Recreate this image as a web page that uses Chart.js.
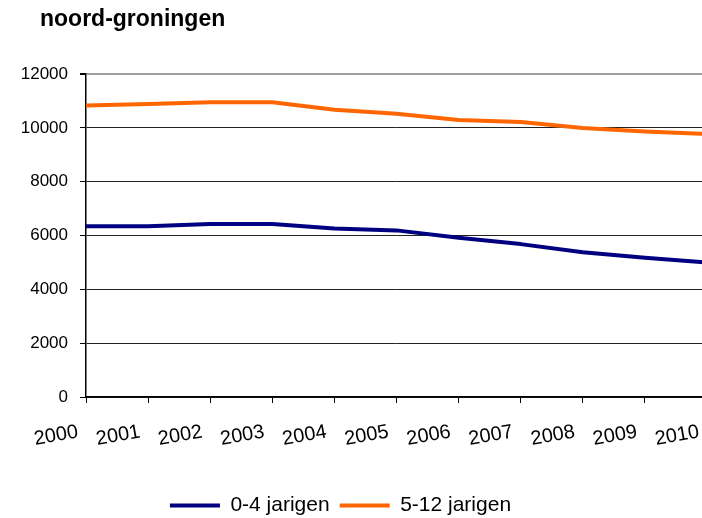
<!DOCTYPE html>
<html>
<head>
<meta charset="utf-8">
<script src="https://cdn.jsdelivr.net/npm/chart.js@4.4.0/dist/chart.umd.min.js"></script>
<style>
body { margin: 0; width: 702px; height: 518px; overflow: hidden; background: #fff; position: relative; }
#wrap { position: absolute; left: 0; top: 0; width: 712px; height: 526px; }
#titel { position: absolute; left: 40px; top: 7px; font: bold 23px "Liberation Sans", Arial, sans-serif; line-height: 23px; color: #000; }
</style>
</head>
<body>
<div id="wrap"><canvas id="grafiek" width="712" height="526"></canvas></div>
<div id="titel">noord-groningen</div>
<script>
// jaren en aantallen kinderen
const jaren = ['2000', '2001', '2002', '2003', '2004', '2005', '2006', '2007', '2008', '2009', '2010'];
const jarigen0tot4 = [6340, 6340, 6430, 6430, 6260, 6190, 5920, 5680, 5380, 5170, 5000];
const jarigen5tot12 = [10830, 10890, 10950, 10950, 10670, 10520, 10290, 10220, 9990, 9860, 9770];
const yMin = 0;
const yMax = 12000;
const yStap = 2000;

const lettertype = "'Liberation Sans', Arial, sans-serif";

// legenda iets naar links, zoals in het origineel
const legendaVerschuiving = {
    id: 'legendaVerschuiving',
    afterLayout: function(chart) {
        if (chart.legend) {
            chart.legend.left -= 13;
            chart.legend.right -= 13;
        }
    }
};

document.addEventListener('DOMContentLoaded', function() {
    var ctx = document.getElementById('grafiek').getContext('2d');
    new Chart(ctx, {
        type: 'line',
        data: {
            labels: jaren,
            datasets: [{
                label: '0-4 jarigen',
                data: jarigen0tot4,
                borderColor: '#000080',
                backgroundColor: '#000080',
                borderWidth: 4,
                pointRadius: 0,
                tension: 0,
                borderJoinStyle: 'round'
            }, {
                label: '5-12 jarigen',
                data: jarigen5tot12,
                borderColor: '#FF6600',
                backgroundColor: '#FF6600',
                borderWidth: 4,
                pointRadius: 0,
                tension: 0,
                borderJoinStyle: 'round'
            }]
        },
        options: {
            responsive: false,
            animation: false,
            layout: {
                padding: { top: 74, right: 5, bottom: 0, left: 0 }
            },
            scales: {
                x: {
                    offset: false,
                    grid: {
                        drawOnChartArea: false,
                        drawTicks: true,
                        tickLength: 6,
                        color: '#000'
                    },
                    border: { color: '#000', width: 1.5 },
                    ticks: {
                        font: { family: lettertype, size: 20 },
                        color: '#000',
                        minRotation: 10,
                        maxRotation: 10,
                        autoSkip: false,
                        padding: 17,
                        labelOffset: -8
                    },
                    afterFit: function(schaal) {
                        schaal.height = 88;
                        schaal.paddingLeft = 0;
                        schaal.paddingRight = 0;
                    }
                },
                y: {
                    min: yMin,
                    max: yMax,
                    ticks: {
                        stepSize: yStap,
                        font: { family: lettertype, size: 17 },
                        color: '#000',
                        padding: 12,
                        callback: function(waarde) { return String(waarde); }
                    },
                    grid: {
                        color: function(c) {
                            return c.tick && c.tick.value === yMax ? '#a0a0a0' : '#222';
                        },
                        lineWidth: function(c) {
                            return c.tick && c.tick.value === yMax ? 2 : 1;
                        },
                        tickLength: 6,
                        tickColor: '#000'
                    },
                    border: { color: '#000', width: 1.5 },
                    afterFit: function(schaal) { schaal.width = 86; }
                }
            },
            plugins: {
                legend: {
                    position: 'bottom',
                    labels: {
                        usePointStyle: true,
                        pointStyle: 'line',
                        pointStyleWidth: 50,
                        font: { family: lettertype, size: 21 },
                        color: '#000',
                        padding: 10
                    }
                },
                title: { display: false },
                tooltip: { enabled: false }
            }
        },
        plugins: [legendaVerschuiving]
    });
});
</script>
</body>
</html>
